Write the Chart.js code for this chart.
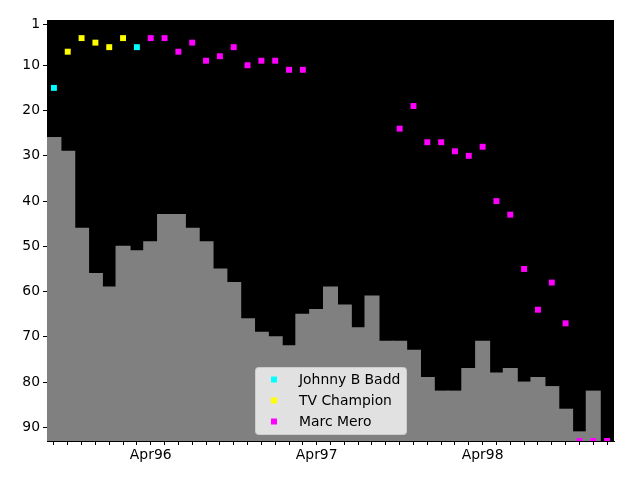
<!DOCTYPE html>
<html>
<head>
<meta charset="utf-8">
<script src="https://cdn.jsdelivr.net/npm/chart.js@4.4.1/dist/chart.umd.min.js"></script>
<style>
  html, body { margin: 0; padding: 0; background: #fff; }
  #wrap { width: 640px; height: 480px; }
</style>
</head>
<body>
<div id="wrap"><canvas id="grap1" width="640" height="480"></canvas></div>
<script>
var months = ["Sep95", "Oct95", "Nov95", "Dec95", "Jan96", "Feb96", "Mar96", "Apr96", "May96", "Jun96",
    "Jul96", "Aug96", "Sep96", "Oct96", "Nov96", "Dec96", "Jan97", "Feb97", "Mar97", "Apr97",
    "May97", "Jun97", "Jul97", "Aug97", "Sep97", "Oct97", "Nov97", "Dec97", "Jan98", "Feb98",
    "Mar98", "Apr98", "May98", "Jun98", "Jul98", "Aug98", "Sep98", "Oct98", "Nov98", "Dec98", "Jan99"];

// gray bars (rank of the month)
var barRank = [26, 29, 46, 56, 59, 50, 51, 49, 43, 43,
    46, 49, 55, 58, 66, 69, 70, 72, 65, 64,
    59, 63, 68, 61, 71, 71, 73, 79, 82, 82,
    77, 71, 78, 77, 80, 79, 81, 86, 91, 82, null];

var johnny = [15, null, null, null, null, null, 6];
var tvChampion = [null, 7, 4, 5, 6, 4];
var marcMero = [null, null, null, null, null, null, null, 4, 4, 7,
    5, 9, 8, 6, 10, 9, 9, 11, 11, null,
    null, null, null, null, null, 24, 19, 27, 27, 29,
    30, 28, 40, 43, 55, 64, 58, 67, 93, 93, 93];

var yTicks = [1, 10, 20, 30, 40, 50, 60, 70, 80, 90];

Chart.defaults.font.family = "'DejaVu Sans', sans-serif";
Chart.defaults.font.size = 13.9;
Chart.defaults.color = '#000';

var blackArea = {
    id: 'blackArea',
    beforeDraw: function (chart) {
        var a = chart.chartArea;
        chart.ctx.save();
        chart.ctx.fillStyle = '#000';
        chart.ctx.fillRect(a.left, a.top, a.right - a.left, a.bottom - a.top);
        chart.ctx.restore();
    }
};

var boxLegend = {
    id: 'boxLegend',
    afterDraw: function (chart) {
        var ctx = chart.ctx;
        var x = 255, y = 367, w = 151, h = 67;
        ctx.save();
        ctx.fillStyle = 'rgba(230,230,230,0.95)';
        ctx.strokeStyle = '#cccccc';
        ctx.lineWidth = 1;
        ctx.beginPath();
        ctx.roundRect(x + 0.5, y + 0.5, w, h, 3);
        ctx.fill();
        ctx.stroke();
        ctx.font = "13.9px 'DejaVu Sans', sans-serif";
        ctx.textBaseline = 'middle';
        var items = chart.data.datasets.filter(function (d) { return d.type === 'line'; });
        items.forEach(function (d, i) {
            var cy = 379.5 + i * 21;
            ctx.fillStyle = d.backgroundColor;
            ctx.fillRect(271, cy - 3, 6, 6);
            ctx.fillStyle = '#000';
            ctx.fillText(d.label, 299, cy + 1);
        });
        ctx.restore();
    }
};

function points(label, color, data) {
    return {
        type: 'line',
        label: label,
        data: data,
        showLine: false,
        pointStyle: 'rect',
        pointRadius: 4.2,
        pointBorderWidth: 0,
        backgroundColor: color,
        borderColor: color,
        clip: 0,
        order: 1
    };
}

var ctx = document.getElementById('grap1').getContext('2d');
var chart = new Chart(ctx, {
    type: 'bar',
    data: {
        labels: months,
        datasets: [
            {
                type: 'bar',
                label: 'rank',
                data: barRank,
                base: 93,
                backgroundColor: '#808080',
                borderWidth: 0,
                inflateAmount: 0.6,
                barPercentage: 1,
                categoryPercentage: 1,
                order: 10
            },
            points('Johnny B Badd', '#00ffff', johnny),
            points('TV Champion', '#ffff00', tvChampion),
            points('Marc Mero', '#ff00ff', marcMero)
        ]
    },
    options: {
        responsive: false,
        animation: false,
        layout: { padding: { top: 20, right: 26, left: 0, bottom: 0 } },
        plugins: {
            legend: { display: false },
            tooltip: { enabled: false }
        },
        scales: {
            x: {
                offset: true,
                grid: { display: true, drawOnChartArea: false, offset: false, color: '#000', tickLength: 4 },
                border: { color: '#000' },
                ticks: {
                    autoSkip: false,
                    maxRotation: 0,
                    padding: 2,
                    callback: function (value) {
                        var l = this.getLabelForValue(value);
                        return l.indexOf('Apr') === 0 ? l : '';
                    }
                },
                afterFit: function (scale) { scale.height = 39; }
            },
            y: {
                reverse: true,
                min: 0,
                max: 93,
                grid: { display: true, drawOnChartArea: false, color: '#000', tickLength: 4 },
                border: { color: '#000' },
                ticks: { padding: 3 },
                afterBuildTicks: function (scale) {
                    scale.ticks = yTicks.map(function (v) { return { value: v }; });
                },
                afterFit: function (scale) { scale.width = 47; }
            }
        }
    },
    plugins: [blackArea, boxLegend]
});
</script>
</body>
</html>
